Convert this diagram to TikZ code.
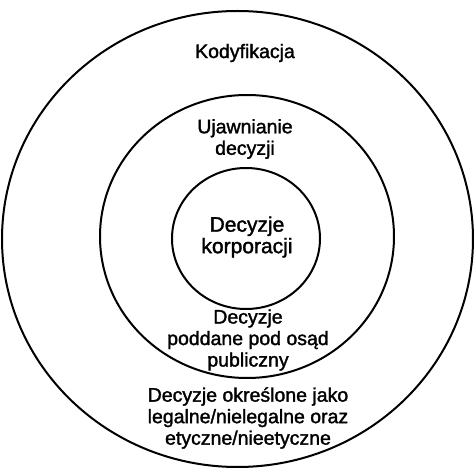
\documentclass[tikz,border=0pt]{standalone}
\usepackage{fontspec}
\setmainfont[FakeBold=1.6]{Liberation Sans}
\usetikzlibrary{shapes.geometric}
\begin{document}
\begin{tikzpicture}[x=1pt,y=-1pt,
  ring/.style={draw=black,line width=2pt,ellipse,inner sep=0pt},
  lbl/.style={align=center,inner sep=0pt,font=\fontsize{19.5}{21.5}\selectfont},
  lblbig/.style={align=center,inner sep=0pt,font=\fontsize{21}{21.5}\selectfont}]
\useasboundingbox (0,0) rectangle (475,468);
\node[ring,minimum width=471pt,minimum height=456pt] (outer) at (237.5,239) {};
\node[ring,minimum width=294pt,minimum height=283pt] (middle) at (247,236.5) {};
\node[ring,minimum width=148pt,minimum height=141pt] (inner) at (246,238.5) {};
\node[lbl] (kod) at (245,53) {Kodyfikacja};
\node[lbl] (ujaw) at (245,139) {Ujawnianie\\decyzji};
\node[lblbig] (korp) at (247,237) {Decyzje\\korporacji};
\node[lbl] (osad) at (248,340) {Decyzje\\poddane pod osąd\\publiczny};
\node[lbl] (legal) at (248,418) {Decyzje określone jako\\legalne/nielegalne oraz\\etyczne/nieetyczne};
\end{tikzpicture}
\end{document}
